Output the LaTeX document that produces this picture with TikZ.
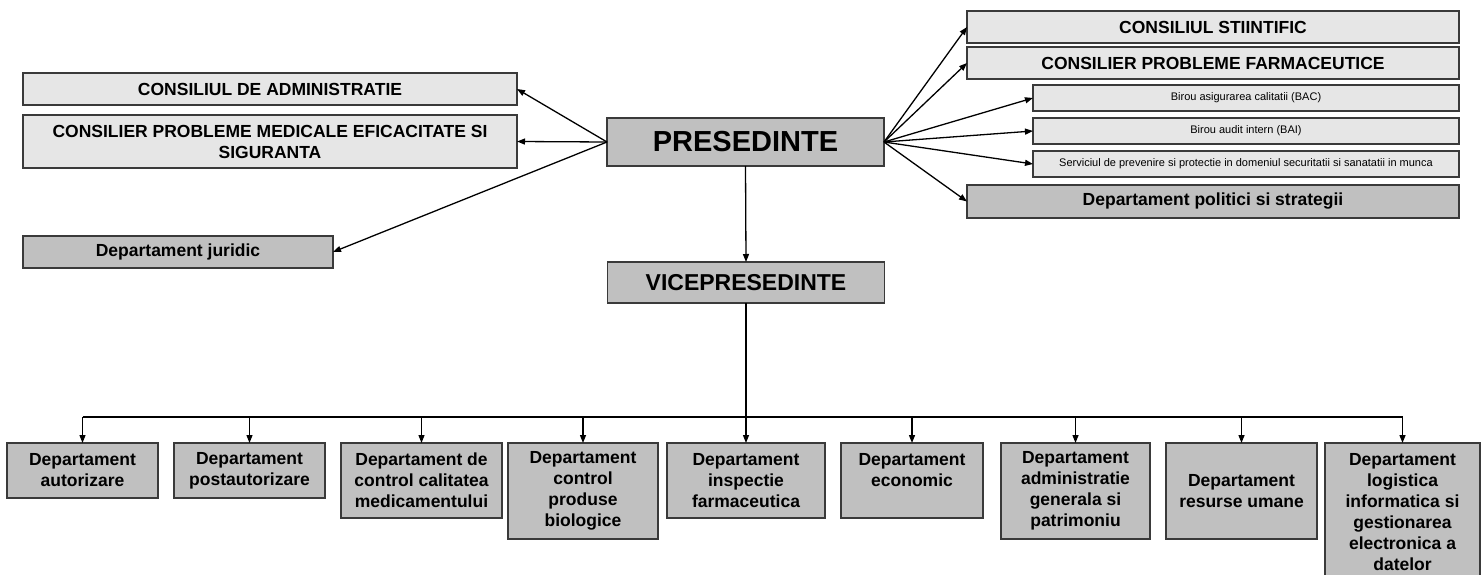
\documentclass[tikz,border=0pt]{standalone}
\usepackage{fontspec}
\setmainfont{Liberation Sans}
\usetikzlibrary{arrows.meta}
\definecolor{lightbox}{HTML}{E6E6E6}
\definecolor{darkbox}{HTML}{C0C0C0}
\definecolor{edge}{HTML}{3A3A3A}
\tikzset{
  box/.style={draw=edge, line width=1.4pt, inner sep=0pt, outer sep=0pt, align=center, font=\bfseries\fontsize{17.5}{21}\selectfont},
  lbox/.style={box, fill=lightbox},
  dbox/.style={box, fill=darkbox},
  sbox/.style={box, fill=lightbox, font=\fontsize{11}{13}\selectfont},
  conn/.style={line width=1.3pt, -{Triangle[length=8pt,width=6pt]}},
  plain/.style={line width=1.3pt}
}
\begin{document}
\begin{tikzpicture}[x=1pt,y=-1pt]
\useasboundingbox (0,0) rectangle (1482,575);
% left
\node[lbox, minimum width=494, minimum height=32] (cda) at (270,89) {CONSILIUL DE ADMINISTRATIE};
\node[lbox, minimum width=494, minimum height=53] (cpm) at (270,141.5) {CONSILIER PROBLEME MEDICALE EFICACITATE SI\\SIGURANTA};
\node[dbox, minimum width=310, minimum height=32] (jur) at (178,252) {Departament juridic};
% centre
\node[dbox, minimum width=277, minimum height=48, font=\bfseries\fontsize{29}{34}\selectfont] (pres) at (745.5,142) {PRESEDINTE};
\node[dbox, minimum width=277, minimum height=41, font=\bfseries\fontsize{23}{27}\selectfont] (vice) at (746,282.5) {VICEPRESEDINTE};
% right
\node[lbox, minimum width=492, minimum height=32] (cs) at (1213,27) {CONSILIUL STIINTIFIC};
\node[lbox, minimum width=492, minimum height=32] (cpf) at (1213,63) {CONSILIER PROBLEME FARMACEUTICE};
\node[sbox, minimum width=426, minimum height=26] (bac) at (1246,98) {Birou asigurarea calitatii (BAC)};
\node[sbox, minimum width=426, minimum height=26] (bai) at (1246,131) {Birou audit intern (BAI)};
\node[sbox, minimum width=426, minimum height=26] (serv) at (1246,164) {Serviciul de prevenire si protectie in domeniul securitatii si sanatatii in munca};
\node[dbox, minimum width=492, minimum height=33] (dps) at (1213,201.5) {Departament politici si strategii};
% bottom row
\node[dbox, minimum width=151, minimum height=55] (b1) at (82.5,470.5) {Departament\\autorizare};
\node[dbox, minimum width=151, minimum height=55] (b2) at (249.5,470.5) {Departament\\postautorizare};
\node[dbox, minimum width=161, minimum height=75] (b3) at (421.5,480.5) {Departament de\\control calitatea\\medicamentului};
\node[dbox, minimum width=150, minimum height=96] (b4) at (583,491) {Departament\\control\\produse\\biologice};
\node[dbox, minimum width=158, minimum height=75] (b5) at (746,480.5) {Departament\\inspectie\\farmaceutica};
\node[dbox, minimum width=142, minimum height=75] (b6) at (912,480.5) {Departament\\economic\\~};
\node[dbox, minimum width=149, minimum height=96] (b7) at (1075.5,491) {Departament\\administratie\\generala si\\patrimoniu};
\node[dbox, minimum width=151, minimum height=96] (b8) at (1241.5,491) {Departament\\resurse umane};
\node[dbox, minimum width=155, minimum height=139] (b9) at (1402.5,512.5) {Departament\\logistica\\informatica si\\gestionarea\\electronica a\\datelor};
% connectors from presedinte
\draw[conn] (pres.west) -- (cda.east);
\draw[conn] (pres.west) -- (cpm.east);
\draw[conn] (pres.west) -- (jur.east);
\draw[conn] (pres.east) -- (cs.west);
\draw[conn] (pres.east) -- (cpf.west);
\draw[conn] (pres.east) -- (bac.west);
\draw[conn] (pres.east) -- (bai.west);
\draw[conn] (pres.east) -- (serv.west);
\draw[conn] (pres.east) -- (dps.west);
\draw[conn] (pres.south) -- (vice.north);
% bus
\coordinate (bus) at (0,417);
\draw[conn] (vice.south) -- (b5.north);
\draw[plain] (b1.north |- bus) -- (b9.north |- bus);
\foreach \b in {b1,b2,b3,b4,b6,b7,b8,b9}{
  \draw[conn] (\b.north |- bus) -- (\b.north);
}
\end{tikzpicture}
\end{document}
